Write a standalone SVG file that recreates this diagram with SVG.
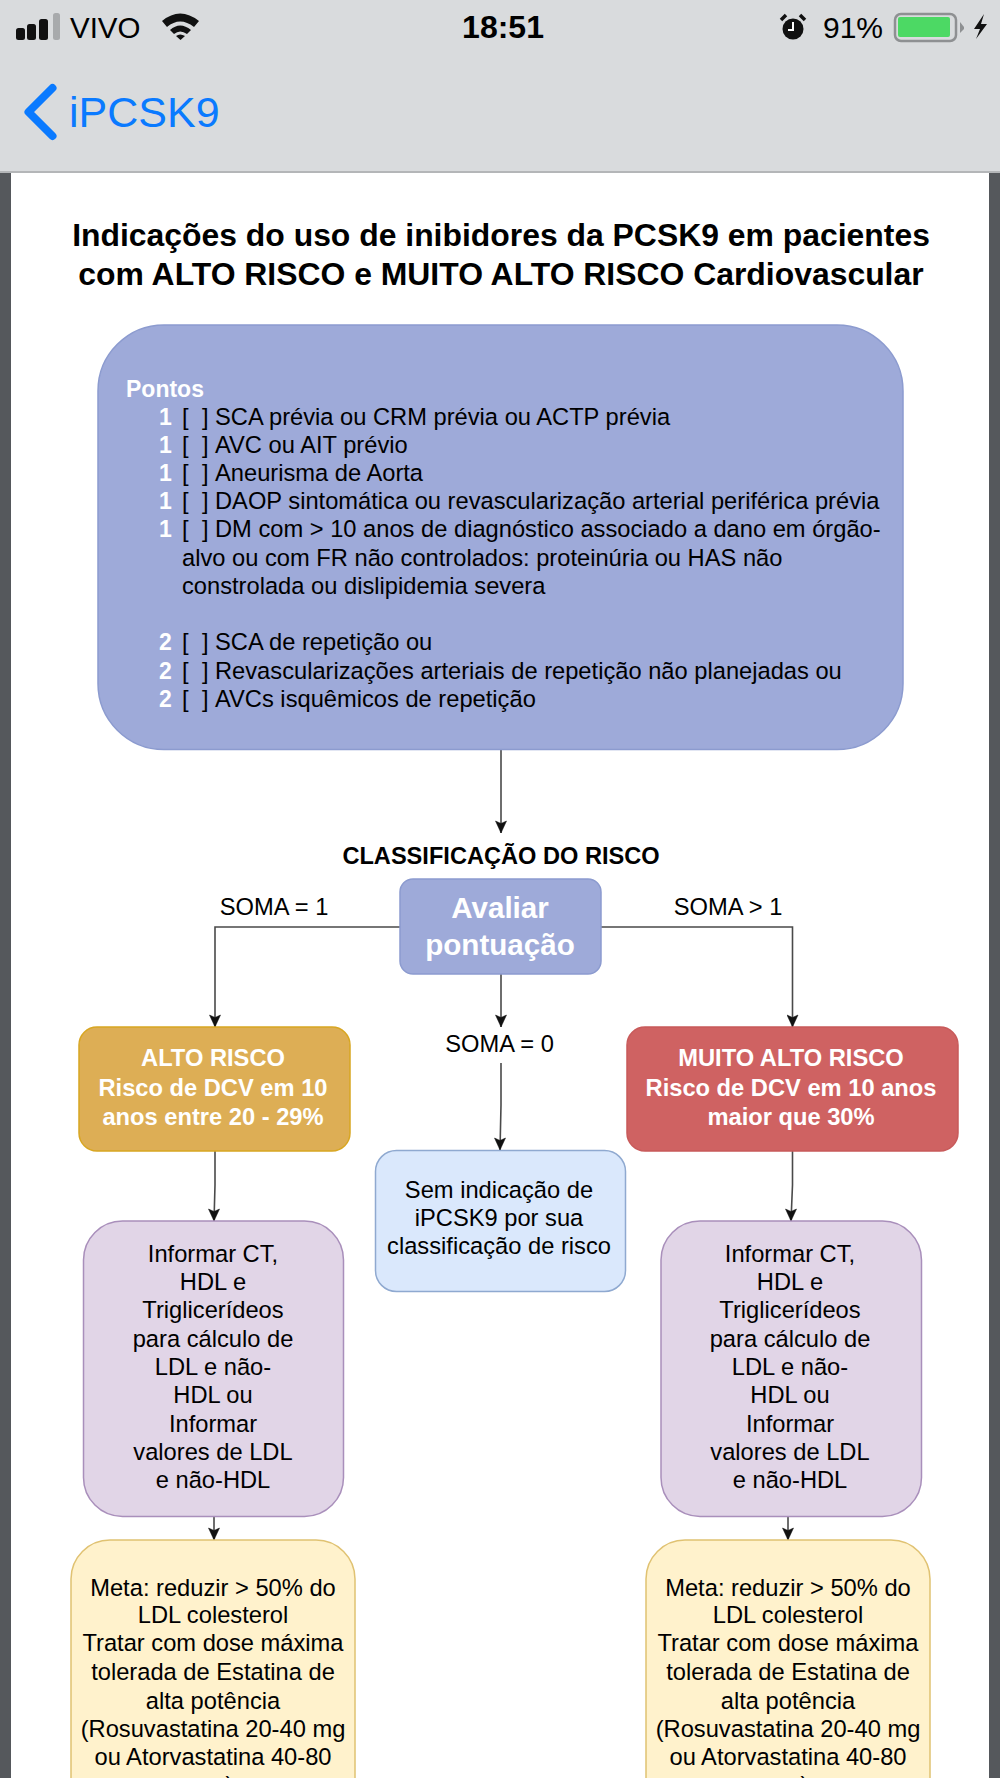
<svg xmlns="http://www.w3.org/2000/svg" width="1000" height="1778" viewBox="0 0 1000 1778">
<defs>
<style>
text{font-family:"Liberation Sans",Arial,sans-serif;fill:#000}
.t{font-size:31.900px;font-weight:bold;text-anchor:middle}
.b{font-size:23.700px}
.n{font-size:23px;font-weight:bold;fill:#fff}
.c{font-size:23.700px;text-anchor:middle}
.w{font-size:23.700px;font-weight:bold;fill:#fff;text-anchor:middle}
.a{font-size:29.600px;font-weight:bold;fill:#fff;text-anchor:middle}
.cn{fill:none;stroke:#4a4a4a;stroke-width:1.6}
.box{stroke-width:1.5}
</style>
<marker id="ah" markerUnits="userSpaceOnUse" markerWidth="12" markerHeight="14" refX="6" refY="13" orient="0" viewBox="0 0 12 14"><path d="M0.500 1L6 3.500L11.500 1L6 13Z" fill="#111" stroke="#111" stroke-width="0.5"/></marker>
</defs>
<rect width="1000" height="1778" fill="#fff"/>
<rect x="0" y="172" width="11" height="1606" fill="#55585c"/>
<rect x="989" y="172" width="11" height="1606" fill="#55585c"/>
<g id="phone-bar">
<rect width="1000" height="172" fill="#d9dbdd"/>
<rect y="171" width="1000" height="2" fill="#b4b6b8"/>
<rect x="16" y="28" width="9" height="12" rx="2.500" fill="#111"/>
<rect x="27" y="24" width="9" height="16" rx="2.500" fill="#111"/>
<rect x="39" y="19" width="9" height="21" rx="2.500" fill="#111"/>
<rect x="53" y="13" width="7" height="27" rx="2.500" fill="#a8aaac"/>
<text x="70" y="38" font-size="29.500">VIVO</text>
<path d="M162 21Q180 6 199 21L194 27Q180 16 167 27ZM170 30Q180 21 191 30L187 34Q180 29 174 34ZM176 36Q180 33 185 36L180.500 40Z" fill="#111"/>
<text x="503" y="38" font-size="32" font-weight="bold" text-anchor="middle">18:51</text>
<circle cx="793" cy="29" r="10.500" fill="#111"/>
<path d="M793 22V30H788" fill="none" stroke="#fff" stroke-width="2"/>
<path d="M781 20L786 15M805 20L800 15" stroke="#111" stroke-width="3.500" fill="none"/>
<text x="823" y="38" font-size="30">91%</text>
<rect x="895" y="14" width="61" height="27" rx="6" fill="none" stroke="#8e9092" stroke-width="2.500"/>
<rect x="898" y="17" width="52" height="20" rx="2" fill="#4cd964"/>
<path d="M960 22L964 27L964 29L960 33Z" fill="#8e9092"/>
<path d="M984 14L974 29H980L976 39L987 24H981Z" fill="#111"/>
<path d="M52.500 88L28.500 112L52.500 136" fill="none" stroke="#0a7aff" stroke-width="8" stroke-linecap="round" stroke-linejoin="round"/>
<text x="69" y="127" font-size="43" style="fill:#0a7aff">iPCSK9</text>
</g>
<g id="title">
<text class="t" x="501" y="246">Indicações do uso de inibidores da PCSK9 em pacientes</text>
<text class="t" x="501" y="285">com ALTO RISCO e MUITO ALTO RISCO Cardiovascular</text>
</g>
<g id="connectors">
<path class="cn" d="M501 750V833" marker-end="url(#ah)"/>
<path class="cn" d="M400 927H215V1027" marker-end="url(#ah)"/>
<path class="cn" d="M601 927H792.500V1027" marker-end="url(#ah)"/>
<path class="cn" d="M501 974V1027" marker-end="url(#ah)"/>
<path class="cn" d="M501 1063V1105L500 1150" marker-end="url(#ah)"/>
<path class="cn" d="M215 1151V1185L214 1221" marker-end="url(#ah)"/>
<path class="cn" d="M792.500 1151V1185L791 1221" marker-end="url(#ah)"/>
<path class="cn" d="M214 1517V1540" marker-end="url(#ah)"/>
<path class="cn" d="M788 1517V1540" marker-end="url(#ah)"/>
</g>
<g id="points">
<rect class="box" x="98" y="325" width="805" height="424.500" rx="66" fill="#9eaad9" stroke="#8c9bcf"/>
<text class="n" x="126" y="397">Pontos</text>
<text class="n" x="159" y="425">1</text><text class="b" x="182" y="425">[</text><text class="b" x="202" y="425">]</text><text class="b" x="215" y="425">SCA prévia ou CRM prévia ou ACTP prévia</text>
<text class="n" x="159" y="453">1</text><text class="b" x="182" y="453">[</text><text class="b" x="202" y="453">]</text><text class="b" x="215" y="453">AVC ou AIT prévio</text>
<text class="n" x="159" y="481">1</text><text class="b" x="182" y="481">[</text><text class="b" x="202" y="481">]</text><text class="b" x="215" y="481">Aneurisma de Aorta</text>
<text class="n" x="159" y="509">1</text><text class="b" x="182" y="509">[</text><text class="b" x="202" y="509">]</text><text class="b" x="215" y="509">DAOP sintomática ou revascularização arterial periférica prévia</text>
<text class="n" x="159" y="537">1</text><text class="b" x="182" y="537">[</text><text class="b" x="202" y="537">]</text><text class="b" x="215" y="537">DM com &gt; 10 anos de diagnóstico associado a dano em órgão-</text>
<text class="b" x="182" y="566">alvo ou com FR não controlados: proteinúria ou HAS não</text>
<text class="b" x="182" y="594">constrolada ou dislipidemia severa</text>
<text class="n" x="159" y="650">2</text><text class="b" x="182" y="650">[</text><text class="b" x="202" y="650">]</text><text class="b" x="215" y="650">SCA de repetição ou</text>
<text class="n" x="159" y="679">2</text><text class="b" x="182" y="679">[</text><text class="b" x="202" y="679">]</text><text class="b" x="215" y="679">Revascularizações arteriais de repetição não planejadas ou</text>
<text class="n" x="159" y="707">2</text><text class="b" x="182" y="707">[</text><text class="b" x="202" y="707">]</text><text class="b" x="215" y="707">AVCs isquêmicos de repetição</text>
</g>
<g id="classificacao"><text x="501" y="864" font-size="23.600" font-weight="bold" text-anchor="middle">CLASSIFICAÇÃO DO RISCO</text></g>
<g id="avaliar">
<rect class="box" x="400" y="879" width="201" height="95" rx="13" fill="#9eaad9" stroke="#8c9bcf"/>
<text class="a" x="500" y="918">Avaliar</text>
<text class="a" x="500" y="955">pontuação</text>
</g>
<g id="labels">
<text class="c" x="274" y="915">SOMA = 1</text>
<text class="c" x="728" y="915">SOMA &gt; 1</text>
<text class="c" x="499.500" y="1052">SOMA = 0</text>
</g>
<g id="alto">
<rect class="box" x="79" y="1027" width="271" height="124" rx="18" fill="#ddae55" stroke="#d8a622"/>
<text class="w" x="213" y="1066">ALTO RISCO</text>
<text class="w" x="213" y="1096">Risco de DCV em 10</text>
<text class="w" x="213" y="1125">anos entre 20 - 29%</text>
</g>
<g id="muito">
<rect class="box" x="627" y="1027" width="331" height="124" rx="18" fill="#cf6262" stroke="#c85a5a"/>
<text class="w" x="791" y="1066">MUITO ALTO RISCO</text>
<text class="w" x="791" y="1096">Risco de DCV em 10 anos</text>
<text class="w" x="791" y="1125">maior que 30%</text>
</g>
<g id="sem">
<rect class="box" x="375.500" y="1150.500" width="250" height="141" rx="21" fill="#dae8fc" stroke="#8fa9d0"/>
<text class="c" x="499" y="1198">Sem indicação de</text>
<text class="c" x="499" y="1226">iPCSK9 por sua</text>
<text class="c" x="499" y="1254">classificação de risco</text>
</g>
<g id="info-left">
<rect class="box" x="83.500" y="1221" width="260" height="295.500" rx="39" fill="#e1d5e7" stroke="#a98fbb"/>
<text class="c" x="213" y="1262">Informar CT,</text><text class="c" x="213" y="1290">HDL e</text><text class="c" x="213" y="1318">Triglicerídeos</text><text class="c" x="213" y="1347">para cálculo de</text><text class="c" x="213" y="1375">LDL e não-</text><text class="c" x="213" y="1403">HDL ou</text><text class="c" x="213" y="1432">Informar</text><text class="c" x="213" y="1460">valores de LDL</text><text class="c" x="213" y="1488">e não-HDL</text>
</g>
<g id="info-right">
<rect class="box" x="661" y="1221" width="260.500" height="295.500" rx="39" fill="#e1d5e7" stroke="#a98fbb"/>
<text class="c" x="790" y="1262">Informar CT,</text><text class="c" x="790" y="1290">HDL e</text><text class="c" x="790" y="1318">Triglicerídeos</text><text class="c" x="790" y="1347">para cálculo de</text><text class="c" x="790" y="1375">LDL e não-</text><text class="c" x="790" y="1403">HDL ou</text><text class="c" x="790" y="1432">Informar</text><text class="c" x="790" y="1460">valores de LDL</text><text class="c" x="790" y="1488">e não-HDL</text>
</g>
<g id="meta-left">
<rect class="box" x="71" y="1540" width="284" height="290" rx="39" fill="#fff2cc" stroke="#e0c272"/>
<text class="c" x="213" y="1596">Meta: reduzir &gt; 50% do</text><text class="c" x="213" y="1623">LDL colesterol</text><text class="c" x="213" y="1651">Tratar com dose máxima</text><text class="c" x="213" y="1680">tolerada de Estatina de</text><text class="c" x="213" y="1709">alta potência</text><text class="c" x="213" y="1737">(Rosuvastatina 20-40 mg</text><text class="c" x="213" y="1765">ou Atorvastatina 40-80</text><text class="c" x="213" y="1793">mg)</text>
</g>
<g id="meta-right">
<rect class="box" x="646" y="1540" width="284" height="290" rx="39" fill="#fff2cc" stroke="#e0c272"/>
<text class="c" x="788" y="1596">Meta: reduzir &gt; 50% do</text><text class="c" x="788" y="1623">LDL colesterol</text><text class="c" x="788" y="1651">Tratar com dose máxima</text><text class="c" x="788" y="1680">tolerada de Estatina de</text><text class="c" x="788" y="1709">alta potência</text><text class="c" x="788" y="1737">(Rosuvastatina 20-40 mg</text><text class="c" x="788" y="1765">ou Atorvastatina 40-80</text><text class="c" x="788" y="1793">mg)</text>
</g>
</svg>
